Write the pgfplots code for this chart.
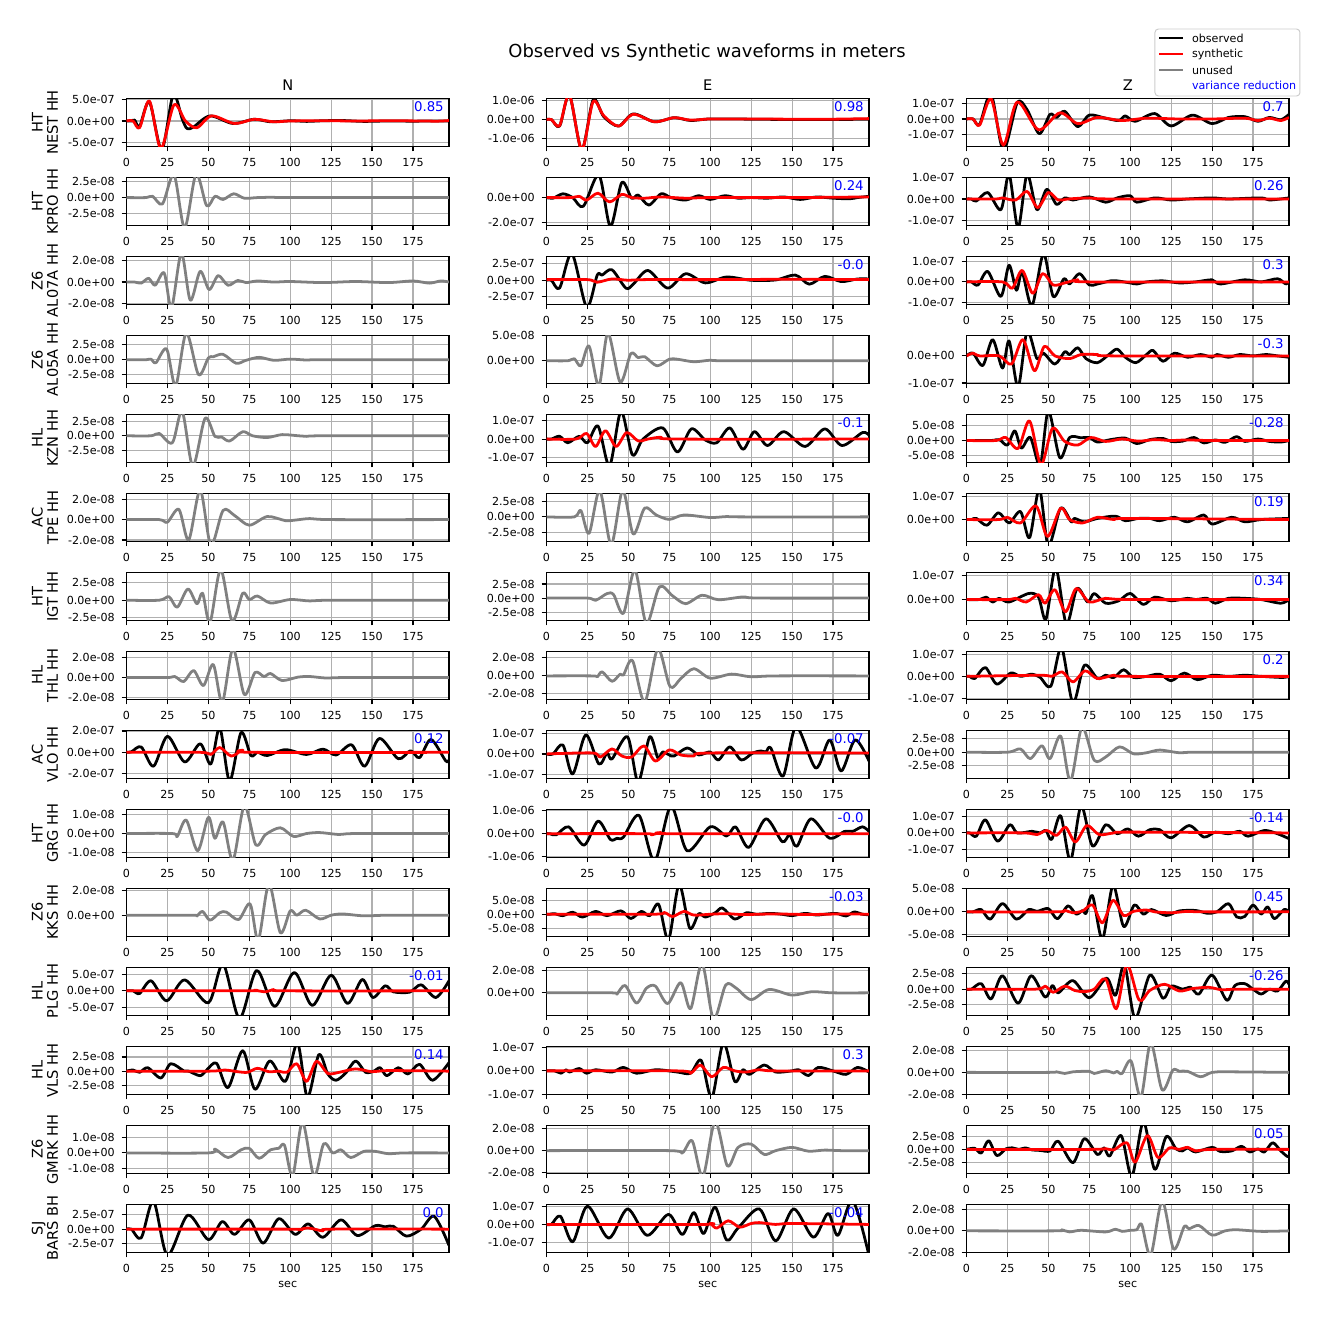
\documentclass[border=0pt]{standalone}
\usepackage{pgfplots}
\pgfplotsset{compat=1.18}
\usepackage{fontspec}
\setmainfont{DejaVu Sans}
\definecolor{gridc}{RGB}{176,176,176}
\definecolor{legc}{RGB}{204,204,204}
\definecolor{unused}{RGB}{128,128,128}
\definecolor{vrblue}{RGB}{0,0,255}
\newcommand\tickfont{\fontsize{8}{9}\selectfont}
\newcommand\ylabfont{\fontsize{10.5}{11}\selectfont}
\newcommand\vrfont{\fontsize{9.6}{11}\selectfont}
\newcommand\legfont{\fontsize{8}{9}\selectfont}
\pgfplotsset{
  wf/.style={
    scale only axis, width=232.2pt, height=34.78pt, anchor=north west,
    xmin=0, xmax=197, xtick={0,25,...,175},
    grid=major, grid style={color=gridc, line width=0.8pt},
    axis line style={line width=0.8pt},
    tick align=outside, major tick length=3.5pt,
    tick style={black, line width=0.8pt},
    xtick pos=bottom, ytick pos=left,
    ticklabel style={font=\tickfont},
    xticklabel style={inner sep=0pt, yshift=-5pt},
    yticklabel style={inner sep=0pt, xshift=-4.75pt},
    /pgf/number format/assume math mode=true,
    every axis plot/.append style={line width=2pt, smooth, line join=round},
  },
  obs/.style={black},
  syn/.style={red},
  unu/.style={unused},
  e7/.style={ytick={-1,0,1}, yticklabels={-1.0e-07,0.0e+00,1.0e-07}},
  e6/.style={ytick={-1,0,1}, yticklabels={-1.0e-06,0.0e+00,1.0e-06}},
  e8/.style={ytick={-1,0,1}, yticklabels={-1.0e-08,0.0e+00,1.0e-08}},
  tt7/.style={ytick={-2,0,2}, yticklabels={-2.0e-07,0.0e+00,2.0e-07}},
  tt8/.style={ytick={-2,0,2}, yticklabels={-2.0e-08,0.0e+00,2.0e-08}},
  tf7/.style={ytick={-2.5,0,2.5}, yticklabels={-2.5e-07,0.0e+00,2.5e-07}},
  tf8/.style={ytick={-2.5,0,2.5}, yticklabels={-2.5e-08,0.0e+00,2.5e-08}},
  f7/.style={ytick={-5,0,5}, yticklabels={-5.0e-07,0.0e+00,5.0e-07}},
  f8/.style={ytick={-5,0,5}, yticklabels={-5.0e-08,0.0e+00,5.0e-08}},
}
\newcommand\ylab[3]{\node[rotate=90,align=center,font=\ylabfont,inner sep=0pt] at (-58.7pt,{-#1*56.87pt-17.39pt}) {#2\\#3};}
\newcommand\vr[3]{\node[anchor=base east,text=vrblue,font=\vrfont,inner sep=0pt] at ({#1*302.4pt+228.6pt},{-#2*56.87pt-9.65pt}) {#3};}
\begin{document}
\begin{tikzpicture}
\useasboundingbox (-91.08pt,70.78pt) rectangle (865.8pt,-880.3pt);
% ===== Row 1: HT NEST HH =====
\begin{axis}[wf, at={(0pt,0pt)}, ymin=-6.06, ymax=5.35, f7]
\addplot[obs] coordinates {(0,0)(3,0)(5,0.2)(8,-1.3)(14,4.5)(21.5,-6.8)(28.5,6.2)(34,0.5)(37,-1.8)(41,-1.4)(51,1.2)(65,-0.6)(78,0.4)(88,-0.2)(100,0.05)(110,-0.1)(120,0.05)(132,0.1)(145,-0.1)(160,0)(175,-0.05)(185,0)(197,0)};
\addplot[syn] coordinates {(0,0)(4,0)(8,-1.6)(14,4.7)(21,-6.5)(29,3.8)(36,0)(43,-1.6)(52,1.2)(66,-0.6)(78,0.4)(90,-0.2)(100,0)(120,0.05)(140,0)(160,0.05)(180,0)(190,-0.05)(197,0.1)};
\end{axis}
\begin{axis}[wf, at={(302.4pt,0pt)}, ymin=-1.44, ymax=1.13, e6]
\addplot[obs] coordinates {(0,0)(3,0)(8,-0.35)(14,1.3)(21.5,-1.6)(28.5,1.05)(35,0.15)(44,-0.35)(53,0.3)(66,-0.12)(78,0.1)(88,-0.05)(100,0.03)(125,0.02)(150,0)(175,0)(197,0.02)};
\addplot[syn] coordinates {(0,0)(3,0)(8,-0.33)(14,1.3)(21.5,-1.6)(28.5,0.95)(35,0.2)(44,-0.35)(53,0.28)(66,-0.12)(78,0.1)(88,-0.03)(100,0.03)(125,0.03)(150,0.02)(175,0.02)(197,0.05)};
\end{axis}
\begin{axis}[wf, at={(604.8pt,0pt)}, ymin=-1.79, ymax=1.34, e7]
\addplot[obs] coordinates {(0,0)(4,0)(8,-0.35)(15,1.6)(22.5,-2.0)(31,1.05)(37,0.6)(44.5,-0.95)(51,0.3)(55,0.1)(60,0.5)(68,-0.5)(75,0.25)(85,0.05)(93,-0.1)(97,0.2)(103,-0.15)(115,0.35)(125,-0.45)(138,0.25)(150,-0.3)(160,0.1)(170,0.15)(178,-0.15)(185,0.1)(192,-0.05)(197,0.3)};
\addplot[syn] coordinates {(0,0)(4,0)(8,-0.4)(15,1.3)(22.5,-1.7)(31,1.1)(44,-0.7)(57,0.4)(68,-0.3)(80,0.1)(95,-0.1)(110,0.05)(130,0)(150,0)(170,0.05)(178,-0.1)(185,0.05)(192,-0.1)(197,0.1)};
\end{axis}
% ===== Row 2: HT KPRO HH =====
\begin{axis}[wf, at={(0pt,-56.87pt)}, ymin=-4.42, ymax=3.2, tf8]
\addplot[unu] coordinates {(0,0)(12,0)(16,0.2)(22,-1.0)(29,3.6)(35.5,-4.8)(42.5,3.7)(49,-1.3)(54,0.2)(59,-0.3)(65.5,0.6)(72,-0.1)(80,0)(90,0.05)(100,0)(197,0)};
\end{axis}
\begin{axis}[wf, at={(302.4pt,-56.87pt)}, ymin=-2.24, ymax=1.62, ytick={-2,0}, yticklabels={-2.0e-07,0.0e+00}]
\addplot[obs] coordinates {(0,0)(4,-0.05)(10,0.3)(16,0)(22.5,-0.7)(32,1.8)(39,-2.3)(46,1.2)(52,-0.05)(56,0.2)(62.5,-0.6)(70,0.3)(76,0)(85,-0.2)(93,0.15)(100,-0.15)(109,0.15)(117,-0.05)(125,0)(135,-0.05)(145,0.05)(155,-0.15)(165,0.05)(175,-0.05)(185,-0.1)(190,0)(197,0.1)};
\addplot[syn] coordinates {(0,0)(15,0)(20,0.1)(24.5,-0.2)(31.5,0.35)(38.5,-0.35)(46,0.25)(52,0)(60,-0.05)(70,0.05)(85,-0.05)(100,0)(150,0)(197,0.05)};
\end{axis}
\begin{axis}[wf, at={(604.8pt,-56.87pt)}, ymin=-1.24, ymax=1.01, e7]
\addplot[obs] coordinates {(0,0)(3,0)(6,-0.1)(13,0.3)(21,-0.5)(26,1.15)(31.5,-1.35)(37,1.15)(43,-0.5)(49,0.45)(55,-0.25)(60,0.05)(65,-0.05)(75,0.1)(85,-0.15)(92,0.05)(100,0.15)(104,-0.15)(115,0.05)(125,-0.05)(135,0)(150,0.05)(160,0)(180,0.05)(185,-0.05)(197,0.05)};
\addplot[syn] coordinates {(0,0)(18,0)(22,0.05)(30,-0.05)(37,0.35)(43.5,-0.4)(50,0.3)(56,-0.05)(62,0)(75,0.05)(90,0)(197,0)};
\end{axis}
% ===== Row 3: Z6 AL07A HH =====
\begin{axis}[wf, at={(0pt,-113.74pt)}, ymin=-2.1, ymax=2.4, tt8]
\addplot[unu] coordinates {(0,0)(5,0)(9,-0.1)(13.5,0.35)(17.5,-0.3)(23,0.85)(27.5,-2.4)(33.5,2.7)(39,-1.7)(45,1.0)(50.5,-0.7)(56,0.6)(62,-0.3)(68,0.15)(73,-0.05)(80,0.1)(90,0)(100,0.05)(120,-0.05)(140,0.05)(160,-0.05)(175,0.1)(185,-0.1)(192,0.1)(197,0)};
\end{axis}
\begin{axis}[wf, at={(302.4pt,-113.74pt)}, ymin=-3.72, ymax=3.67, tf7]
\addplot[obs] coordinates {(0,0)(3,0)(8,-1.2)(15.5,4.1)(24.5,-4.1)(31,0.8)(34,0.8)(40,1.6)(48.5,-1.2)(53,-0.6)(62,1.5)(74,-1.2)(85,1.0)(97,-0.4)(110,0.5)(125,0)(140,0.05)(152,0.8)(160.5,-0.6)(170,0.6)(180,-0.2)(190,0.2)(197,0.2)};
\addplot[syn] coordinates {(0,0.1)(25,0.1)(31,-0.3)(40,0.2)(50,0)(60,0.1)(100,0.1)(150,0.15)(197,0.1)};
\end{axis}
\begin{axis}[wf, at={(604.8pt,-113.74pt)}, ymin=-1.09, ymax=1.23, e7]
\addplot[obs] coordinates {(0,0)(3,0)(7,-0.15)(13,0.5)(21,-0.7)(26,0.8)(30.5,-0.4)(34,0.45)(40,-1.15)(47,1.35)(53,-0.7)(59.5,0.15)(63,-0.1)(69,0.4)(75,-0.15)(80,-0.1)(88,0.05)(92,0.05)(100,-0.05)(104,-0.1)(110,0)(120,0.05)(130,-0.05)(140,0)(150,0.1)(155,-0.1)(170,0.1)(180,0)(190,0.15)(195,-0.1)(197,0)};
\addplot[syn] coordinates {(0,0)(22,0)(28,-0.3)(34,0.55)(40.5,-0.55)(46.5,0.4)(53,-0.15)(60,-0.05)(68,0.1)(75,0)(197,0)};
\end{axis}
% ===== Row 4: Z6 AL05A HH =====
\begin{axis}[wf, at={(0pt,-170.61pt)}, ymin=-4.0, ymax=4.1, tf8]
\addplot[unu] coordinates {(0,0)(12,0)(15,0.1)(18,-0.5)(24.5,1.8)(30,-4.4)(36.5,4.5)(44,-2.5)(50,0.3)(53,0.5)(59,0.9)(67,-0.6)(73,-0.1)(81,0.4)(90,-0.1)(100,0.1)(110,-0.05)(120,0)(197,0)};
\end{axis}
\begin{axis}[wf, at={(302.4pt,-170.61pt)}, ymin=-4.5, ymax=5.02, ytick={0,5}, yticklabels={0.0e+00,5.0e-08}]
\addplot[unu] coordinates {(0,0)(13,0)(17,0.4)(21,-1.0)(26,2.9)(32,-5.0)(37.5,5.5)(45,-4.2)(51.5,1.4)(56,0.6)(60,0.8)(67.5,-1.0)(75,0.3)(80,0.3)(90,-0.2)(100,0.1)(110,0)(197,0)};
\end{axis}
\begin{axis}[wf, at={(604.8pt,-170.61pt)}, ymin=-1.02, ymax=0.76, ytick={-1,0}, yticklabels={-1.0e-07,0.0e+00}]
\addplot[obs] coordinates {(0,0)(4,0.1)(10,-0.35)(16,0.6)(22,-0.45)(26,0.55)(31.5,-1.15)(37,0.9)(43,-0.1)(47,0.1)(54,-0.3)(60,0.15)(63,0.05)(68,0.3)(73,-0.1)(80,-0.25)(87,0.05)(92,0.25)(97,-0.05)(103.5,-0.25)(110,0.05)(114,0.2)(120,-0.2)(127,0.1)(135,-0.05)(143,0.05)(150,-0.05)(153,0.05)(160,-0.05)(167,0.05)(175,0)(183,0.05)(190,0)(197,-0.05)};
\addplot[syn] coordinates {(0,0)(4,0.1)(8,0)(20,0)(27.5,-0.3)(34.5,0.6)(41.5,-0.55)(47.5,0.35)(54,0)(63,-0.1)(70,0.05)(80,0.05)(90,0)(197,0)};
\end{axis}
% ===== Row 5: HL KZN HH =====
\begin{axis}[wf, at={(0pt,-227.48pt)}, ymin=-4.6, ymax=3.7, tf8]
\addplot[unu] coordinates {(0,0)(15,0)(20,0.4)(28,-1.2)(34,4.2)(40.5,-5.2)(48,3.0)(54,-0.1)(58,-0.2)(63,-0.9)(71,0.7)(77,0)(86,-0.3)(95,0.2)(105,0)(110,-0.1)(120,0)(197,0)};
\end{axis}
\begin{axis}[wf, at={(302.4pt,-227.48pt)}, ymin=-1.27, ymax=1.34, e7]
\addplot[obs] coordinates {(0,0)(3,0)(8,0.15)(13,-0.2)(20,0.15)(25,-0.2)(31.5,0.7)(38.5,-1.45)(45.5,1.5)(52.5,-0.85)(59,0)(71,0.6)(80,-0.7)(88.5,0.55)(97,-0.05)(104,-0.2)(112,0.6)(120,-0.55)(127,0.4)(135,-0.35)(145,0.4)(158,-0.4)(170,0.55)(180.5,-0.35)(193,0.35)(197,0.2)};
\addplot[syn] coordinates {(0,0)(18,0)(24.5,0.3)(30,-0.4)(36,0.45)(42.5,-0.4)(49,0.35)(56,-0.1)(62,0)(70,0.1)(80,0)(197,0)};
\end{axis}
\begin{axis}[wf, at={(604.8pt,-227.48pt)}, ymin=-7.3, ymax=8.7, f8]
\addplot[obs] coordinates {(0,0)(15,0)(20,0.3)(25,-1.5)(29.5,3.2)(33.5,-2.5)(39,1.0)(45,-8.2)(50,9.8)(57,-5.7)(63,1.0)(70,0.9)(75,1.0)(80,-0.5)(88,0.3)(97,0.8)(104,-1.0)(112,0.3)(120,0.7)(125,-0.3)(132,-0.2)(139,1.0)(145,-0.8)(152,0.2)(158,-0.6)(165,1.3)(170,-0.3)(178,0.5)(185,-0.3)(192,-0.5)(197,0)};
\addplot[syn] coordinates {(0,0)(18,0)(24,1.0)(31.5,-2.6)(38.5,6.5)(45.5,-8.0)(52.5,4.0)(60,-0.3)(68,-1.5)(76,1.0)(85,-0.3)(95,0.5)(105,-0.2)(115,0.3)(125,0)(135,0.2)(150,0)(197,0)};
\end{axis}
% ===== Row 6: AC TPE HH =====
\begin{axis}[wf, at={(0pt,-284.35pt)}, ymin=-2.15, ymax=2.58, tt8]
\addplot[unu] coordinates {(0,0)(20,0)(25,-0.25)(32,1.0)(38,-2.0)(45,2.9)(51.5,-2.5)(59,0.9)(66,0.4)(75,-0.55)(86,0.3)(97,-0.1)(103,-0.05)(112,0.1)(125,0)(197,0)};
\end{axis}
\begin{axis}[wf, at={(302.4pt,-284.35pt)}, ymin=-3.9, ymax=3.74, tf8]
\addplot[unu] coordinates {(0,0)(17,0)(21,1.0)(26,-2.6)(32.5,4.2)(39.5,-4.4)(46.5,4.2)(53,-2.7)(60,1.4)(67,0.3)(75,-0.4)(84,0.3)(100,-0.1)(110,0.05)(120,0)(197,0)};
\end{axis}
\begin{axis}[wf, at={(604.8pt,-284.35pt)}, ymin=-0.97, ymax=1.16, ytick={0,1}, yticklabels={0.0e+00,1.0e-07}]
\addplot[obs] coordinates {(0,0)(3,0)(6,0.05)(12.5,-0.25)(19.5,0.3)(26,-0.15)(33,0.35)(38.5,-0.8)(44.5,1.35)(50,-1.15)(57.5,0.5)(64,-0.1)(66,0.05)(72,-0.1)(80,0.05)(91,0.15)(97,-0.05)(105,0.05)(112,0.05)(118,-0.05)(127,0.1)(135,-0.1)(145,0.2)(150,-0.2)(162,0.1)(170,-0.1)(180,0)(197,0.05)};
\addplot[syn] coordinates {(0,0)(20,0)(25,0.1)(33,-0.15)(42.5,0.6)(49.5,-0.75)(57.5,0.5)(63,0)(71,-0.15)(80,0.1)(90,0)(100,0.05)(197,0)};
\end{axis}
% ===== Row 7: HT IGT HH =====
\begin{axis}[wf, at={(0pt,-341.22pt)}, ymin=-2.9, ymax=4.0, tf8]
\addplot[unu] coordinates {(0,0)(20,0)(26,0.5)(31,-1.0)(37.5,1.6)(43,-0.5)(46.5,1.0)(51,-3.2)(57.5,4.4)(64.5,-3.0)(71,1.0)(75,0.1)(80,0.6)(88,-0.4)(100,0.1)(112,-0.1)(125,0)(197,0)};
\end{axis}
\begin{axis}[wf, at={(302.4pt,-341.22pt)}, ymin=-4.0, ymax=4.6, tf8]
\addplot[unu] coordinates {(0,0)(25,0)(30,-0.4)(37,0.8)(41,0.6)(47,-2.7)(54,5.0)(61,-4.5)(69,2.0)(77,0.4)(85,-1.0)(95,0.5)(105,-0.3)(120,0.2)(130,0)(197,0)};
\end{axis}
\begin{axis}[wf, at={(604.8pt,-341.22pt)}, ymin=-0.86, ymax=1.12, ytick={0,1}, yticklabels={0.0e+00,1.0e-07}]
\addplot[obs] coordinates {(0,0)(8,0)(12,0.1)(16,-0.1)(20,0.05)(26,-0.1)(38,0.25)(44,0.1)(48.5,-0.8)(54.5,1.3)(61,-1.0)(67.5,0.45)(74,-0.1)(78,0.25)(85,-0.15)(93,-0.05)(100,0.25)(108,-0.2)(115,0.1)(125,-0.05)(135,0.05)(140,0)(147,0.05)(152,-0.15)(160,0.05)(170,0.05)(180,0)(192,-0.15)(197,0)};
\addplot[syn] coordinates {(0,0)(25,0)(30,0.05)(36.5,-0.1)(44,0.2)(48,-0.15)(54,0.4)(60.5,-0.5)(67,0.45)(75,-0.1)(85,0.05)(100,0)(197,0)};
\end{axis}
% ===== Row 8: HL THL HH =====
\begin{axis}[wf, at={(0pt,-398.09pt)}, ymin=-2.2, ymax=2.63, tt8]
\addplot[unu] coordinates {(0,0)(25,0)(29.5,0.1)(35,-0.4)(41,0.7)(47,-0.8)(53,1.3)(58.5,-2.5)(65,2.9)(72,-1.7)(78.5,0.5)(84,0.1)(88,0.4)(95,-0.3)(105,0.05)(112,0.1)(122,-0.05)(135,0)(197,0)};
\end{axis}
\begin{axis}[wf, at={(302.4pt,-398.09pt)}, ymin=-2.62, ymax=2.74, tt8]
\addplot[unu] coordinates {(0,0)(28,0)(31,-0.1)(34,0.45)(40,-0.6)(45,0.2)(47,0.1)(52.5,1.7)(60,-2.9)(68,3.0)(75.5,-1.2)(82,-0.3)(90,0.8)(100,-0.25)(113,0.2)(125,-0.1)(140,0)(197,0)};
\end{axis}
\begin{axis}[wf, at={(604.8pt,-398.09pt)}, ymin=-1.05, ymax=1.14, e7]
\addplot[obs] coordinates {(0,0)(2,0)(5,-0.1)(11.5,0.4)(18.5,-0.35)(27,0.15)(33,0)(40,0.1)(45,-0.05)(51.5,-0.45)(58,1.3)(65,-1.2)(72,0.5)(80,-0.1)(85,0.05)(90,-0.05)(96,0.3)(102,-0.05)(110,0)(118,0.1)(125,-0.2)(133,0.15)(141,-0.15)(150,0.05)(160,0)(170,0.05)(180,0)(193,-0.05)(197,0)};
\addplot[syn] coordinates {(0,0)(45,0.05)(52,0)(58.5,0.2)(65,-0.25)(72.5,0.25)(80,-0.1)(90,0.05)(100,0)(197,0)};
\end{axis}
% ===== Row 9: AC VLO HH =====
\begin{axis}[wf, at={(0pt,-454.96pt)}, ymin=-2.45, ymax=2.07, tt7]
\addplot[obs] coordinates {(0,0)(3,0.05)(9,0.5)(16.5,-1.3)(25,1.5)(35.5,-0.9)(45,0.8)(51.5,-1.1)(57,2.3)(63,-2.7)(70,1.85)(76,-0.3)(80,0)(86,-0.3)(97,0.25)(110,-0.2)(120,0.3)(128,-0.25)(137.5,0.7)(145.5,-1.3)(154.5,1.3)(166,-0.6)(173.5,0.15)(179,-0.5)(186,1.2)(195,-0.8)(197,-0.7)};
\addplot[syn] coordinates {(0,0)(45,0)(51.5,-0.2)(57,0.45)(64,-0.35)(71,0.2)(77,0)(197,0)};
\end{axis}
\begin{axis}[wf, at={(302.4pt,-454.96pt)}, ymin=-1.22, ymax=1.18, e7]
\addplot[obs] coordinates {(0,0)(4,0)(10,0.45)(16,-1.0)(24,0.95)(32,-0.5)(37,0.05)(40,-0.25)(49.5,0.85)(56,-1.4)(63,0.85)(68,-0.2)(71,0.1)(75,-0.05)(78,-0.1)(86,0.3)(93,-0.05)(100,0.1)(105,-0.3)(112,0.35)(119,-0.3)(126,0.05)(131,0.15)(134,0.1)(137,0.3)(144.5,-1.1)(152.5,1.35)(164.5,-0.7)(173,0.7)(180,-0.85)(188.5,0.7)(197,-0.35)};
\addplot[syn] coordinates {(0,0)(28,0.05)(33,-0.15)(40,0.25)(46,-0.1)(52,-0.15)(59.5,0.4)(66.5,-0.35)(75,0.2)(82,-0.05)(90,-0.1)(100,0.05)(197,0.05)};
\end{axis}
\begin{axis}[wf, at={(604.8pt,-454.96pt)}, ymin=-4.9, ymax=4.1, tf8]
\addplot[unu] coordinates {(0,0)(25,0)(33,0.6)(39,-1.2)(46,1.2)(51,-1.2)(57.5,3.0)(63.5,-5.4)(70.5,4.6)(78,-1.5)(85,-0.9)(93.5,1.0)(102,-0.3)(110,-0.1)(118,0.4)(130,-0.1)(140,0)(197,0)};
\end{axis}
% ===== Row 10: HT GRG HH =====
\begin{axis}[wf, at={(0pt,-511.83pt)}, ymin=-1.25, ymax=1.27, e8]
\addplot[unu] coordinates {(0,0)(28,0)(31,-0.15)(36.5,0.7)(43.5,-0.9)(50,0.85)(54,-0.25)(59,0.6)(65,-1.4)(72,1.45)(79,-0.6)(85,-0.05)(94,0.3)(102,-0.15)(110,0)(118,0.05)(130,-0.05)(140,0)(197,0)};
\end{axis}
\begin{axis}[wf, at={(302.4pt,-511.83pt)}, ymin=-1.04, ymax=1.07, e6]
\addplot[obs] coordinates {(0,0)(2,0)(6,-0.05)(13.5,0.3)(23,-0.5)(31.5,0.55)(39,-0.25)(43,-0.2)(47,-0.15)(56.5,0.8)(66,-1.2)(76,1.2)(86,-0.75)(100,0.3)(110,-0.1)(115.5,0.3)(123.5,-0.6)(134,0.65)(144,-0.35)(148.5,-0.05)(153,-0.55)(161.5,0.65)(173,-0.2)(182,0.1)(187,0.1)(193,0.3)(197,0.1)};
\addplot[syn] coordinates {(0,0)(60,0)(64,-0.05)(70,0.05)(76,0)(197,0)};
\end{axis}
\begin{axis}[wf, at={(604.8pt,-511.83pt)}, ymin=-1.5, ymax=1.45, e7]
\addplot[obs] coordinates {(0,0)(2,0)(6,-0.2)(11.5,0.8)(19,-0.5)(26.5,0.5)(31,0)(40,0.1)(45,0)(48.5,0.15)(52,-0.4)(57.5,1.05)(63.5,-1.7)(70,1.65)(77,-0.8)(85,0.5)(92,-0.05)(98.5,0.25)(105,-0.2)(112,0.2)(118,0.2)(125,-0.3)(136,0.45)(145,-0.25)(152,0.05)(160,-0.05)(167,0.1)(172,-0.2)(182,0.15)(190,-0.05)(197,-0.35)};
\addplot[syn] coordinates {(0,0)(35,0)(43,-0.1)(49,0.15)(55,-0.15)(60.5,0.35)(66.5,-0.55)(73.5,0.45)(81,-0.1)(90,0)(100,0.05)(197,0)};
\end{axis}
% ===== Row 11: Z6 KKS HH =====
\begin{axis}[wf, at={(0pt,-568.70pt)}, ymin=-1.7, ymax=2.16, ytick={0,2}, yticklabels={0.0e+00,2.0e-08}]
\addplot[unu] coordinates {(0,0)(40,0)(43,-0.05)(46.5,0.3)(51,-0.4)(57,0.2)(61,0.25)(68.5,-0.35)(75.5,0.9)(80.5,-2.0)(87,2.5)(94,-1.4)(100,0.35)(104,0)(109.5,0.4)(118,-0.3)(125,0)(132,0.1)(145,-0.05)(160,0)(197,0)};
\end{axis}
\begin{axis}[wf, at={(302.4pt,-568.70pt)}, ymin=-7.85, ymax=9.2, f8]
\addplot[obs] coordinates {(0,0)(2,0)(5,0.2)(10,-0.5)(16,0.7)(22,-1.0)(30,1.0)(37,-0.5)(45.5,1.2)(51.5,-1.5)(58,1.0)(63,-0.5)(68.5,3.5)(74.5,-9)(81,10.5)(87.5,-4.9)(93,0.2)(97,-1.0)(103,0.5)(107.5,2.2)(115,-1.7)(122,0.5)(128,0)(137,0.3)(145,-0.1)(150,-0.5)(158,0.3)(165,-0.3)(170,0)(177,0.3)(183,-0.6)(188,0.8)(193,0)(197,-0.2)};
\addplot[syn] coordinates {(0,0)(65,0)(72,0.6)(77,-0.8)(84,1.0)(90,-0.3)(100,0)(110,0.2)(120,-0.1)(140,0.1)(160,-0.1)(180,0.1)(197,0)};
\end{axis}
\begin{axis}[wf, at={(604.8pt,-568.70pt)}, ymin=-5.37, ymax=5.16, f8]
\addplot[obs] coordinates {(0,0)(4,0)(9,0.5)(14.5,-1.6)(22,1.8)(30.5,-1.6)(38,0.5)(43,0.1)(50,0.7)(55.5,-1.5)(62,1.3)(67,-0.5)(71,0.3)(73,-0.3)(77,3.5)(83,-6.0)(89.5,5.8)(96,-3.2)(102.5,1.5)(108,-0.5)(113,0.5)(122,-0.8)(130,0.2)(140,0.3)(147,-0.3)(153,0)(160,1.8)(165,-1.1)(170,-1.0)(175,1.5)(180,-0.5)(184,1.1)(188,-1.5)(194,0.5)(197,0)};
\addplot[syn] coordinates {(0,0)(55,0)(60,0.3)(65,-0.2)(71,0.2)(77,1.5)(83,-2.4)(89.5,2.5)(96,-0.8)(102,0.1)(110,0.4)(115,0)(125,-0.2)(135,0.1)(145,0)(197,0)};
\end{axis}
% ===== Row 12: HL PLG HH =====
\begin{axis}[wf, at={(0pt,-625.57pt)}, ymin=-7.4, ymax=7.1, f7]
\addplot[obs] coordinates {(0,0)(4,0)(8,-0.8)(15,3.0)(24.5,-3.0)(35.5,3.3)(50,-3.6)(59,8)(69,-8.3)(79.5,6.1)(90.5,-4.7)(102.5,5.5)(113.5,-4.4)(125,4.7)(135,-3.8)(144,3.4)(150.5,-2.0)(158,1.5)(163,-0.3)(173,-0.4)(180,1.8)(189,-2.0)(197,3.0)};
\addplot[syn] coordinates {(0,0)(75,0)(78,0.2)(85,-0.3)(90,0.4)(97,0)(197,0)};
\end{axis}
\begin{axis}[wf, at={(302.4pt,-625.57pt)}, ymin=-2.0, ymax=2.27, ytick={0,2}, yticklabels={0.0e+00,2.0e-08}]
\addplot[unu] coordinates {(0,0)(40,0)(43,-0.1)(48,0.65)(55,-0.9)(61,0.4)(66.5,0.6)(74,-0.95)(82,0.9)(88,-1.4)(95,2.6)(102,-2.3)(109.5,0.7)(116,0.4)(125,-0.6)(136,0.3)(150,-0.2)(162,0.1)(175,0)(197,0)};
\end{axis}
\begin{axis}[wf, at={(604.8pt,-625.57pt)}, ymin=-4.3, ymax=3.6, tf8]
\addplot[obs] coordinates {(0,0)(3,0)(9,0.9)(15,-1.6)(22,2.2)(31.5,-2.3)(39.5,2.2)(48,-1.3)(52.5,0.6)(56,-0.6)(65,1.4)(75,-1.4)(85.5,1.8)(91,-1.0)(96.5,4.0)(103,-4.8)(112,2.3)(120,-1.5)(125,0.5)(132,0)(137,0.3)(142,-0.8)(150,2.3)(159,-1.8)(164,0.6)(170,0.9)(175,0)(180,-0.8)(185,0)(190,-0.3)(195,1.3)(197,0.8)};
\addplot[syn] coordinates {(0,0)(42,0)(48,0.5)(53,-0.5)(60,0.5)(66,-0.2)(72,-0.4)(78,0)(85,1.7)(91.5,-3.2)(98,4.0)(105.5,-1.8)(112,-0.2)(121,0.8)(130,-0.3)(138,0.1)(148,0.3)(156,-0.1)(165,0)(197,0)};
\end{axis}
% ===== Row 13: HL VLS HH =====
\begin{axis}[wf, at={(0pt,-682.44pt)}, ymin=-4.1, ymax=4.4, tf8]
\addplot[obs] coordinates {(0,0)(4,0.2)(8,-0.2)(13,0.6)(21,-1.2)(27,1.3)(35,0.05)(38,0)(45,-0.8)(49,0.2)(55,1.4)(62,-2.9)(71,3.6)(78.5,-3.2)(87.5,1.8)(97,-1.8)(104.5,4.9)(110.5,-4.6)(117.5,2.9)(123,-0.5)(128,-1.6)(134,-0.3)(140,1.8)(146,-0.2)(151,0)(155,0.6)(159,-0.8)(166,0.6)(172,-0.5)(179,1.2)(187,-1.6)(197,1.5)};
\addplot[syn] coordinates {(0,0)(50,0)(60,0.2)(68,-0.1)(74,-0.2)(80,0.5)(87,-0.1)(93,0)(98,-0.2)(104,1.3)(110,-1.8)(116,1.7)(123,-0.4)(130,-0.2)(140,0.4)(150,-0.1)(160,0.1)(197,0)};
\end{axis}
\begin{axis}[wf, at={(302.4pt,-682.44pt)}, ymin=-1.01, ymax=1.06, e7]
\addplot[obs] coordinates {(0,0)(5,0)(9,-0.1)(12,0.05)(14,-0.05)(20,0.1)(24.5,-0.1)(30,0.05)(40,-0.05)(47,0.15)(55,-0.1)(67,0.05)(80,-0.05)(88,-0.1)(94.5,0.45)(101,-1.15)(108,1.2)(115,-0.45)(120,0.05)(124,-0.15)(133,0.25)(140,-0.05)(150,0)(154,0.05)(160,-0.2)(166,0.15)(175,0)(183,-0.15)(190,0.15)(197,-0.05)};
\addplot[syn] coordinates {(0,0)(80,0)(88,-0.1)(94,0.25)(101,-0.25)(108,0.15)(115,0)(122,-0.05)(130,0.05)(140,0)(197,0)};
\end{axis}
\begin{axis}[wf, at={(604.8pt,-682.44pt)}, ymin=-2.02, ymax=2.4, tt8]
\addplot[unu] coordinates {(0,0)(50,0)(55,0.05)(60,-0.1)(65,0.05)(75,0.1)(78,-0.1)(85,0.15)(90,-0.05)(92,0.1)(95,-0.1)(100.5,1.05)(106.5,-2.3)(112.5,2.7)(119.5,-1.6)(126,0.2)(130,0.1)(135,0.1)(143,-0.4)(150,0)(160,0.05)(197,0)};
\end{axis}
% ===== Row 14: Z6 GMRK HH =====
\begin{axis}[wf, at={(0pt,-739.31pt)}, ymin=-1.33, ymax=1.8, e8]
\addplot[unu] coordinates {(0,0)(50,0)(54,0.25)(62,-0.3)(70,0.2)(75,0.3)(81,-0.35)(88,0.2)(93,0.3)(96.5,0.5)(101.5,-1.5)(107.5,2.0)(114.5,-1.5)(120.5,0.6)(126,0)(131,0.2)(137,-0.3)(145,0.1)(152,0.1)(160,-0.05)(170,0)(197,0)};
\end{axis}
\begin{axis}[wf, at={(302.4pt,-739.31pt)}, ymin=-2.1, ymax=2.35, tt8]
\addplot[unu] coordinates {(0,0)(75,0)(83,-0.2)(89,0.9)(95.5,-2.4)(103,2.7)(110.5,-1.4)(117,0.3)(125,0.6)(133,-0.35)(140,0)(150,0.3)(160,-0.05)(170,0.05)(180,0)(197,0)};
\end{axis}
\begin{axis}[wf, at={(604.8pt,-739.31pt)}, ymin=-4.7, ymax=4.74, tf8]
\addplot[obs] coordinates {(0,0)(5,0.2)(9,-0.7)(13.5,1.7)(18.5,-1.2)(24,0.1)(28,0.3)(32,0)(36,0.3)(40,-0.1)(45,-0.2)(51,-0.3)(56,1.6)(65,-2.6)(72,2.1)(80,-1.0)(84,0.3)(87.5,-1.3)(94.5,2.7)(101,-5.3)(108,5.4)(115,-3.9)(122,2.5)(128,0.1)(132,-0.3)(135,0.3)(140,-0.5)(150,0.4)(155,-0.4)(162,-0.3)(168,0.6)(173,-0.5)(178,0.1)(182,-0.5)(187,1.3)(192,-0.3)(196,-1.4)(197,-1.2)};
\addplot[syn] coordinates {(0,0)(75,0)(85,0.15)(90,-0.1)(98,1.3)(103,-2.5)(110.5,2.7)(117,-1.6)(124,0.3)(130,0)(135,0.4)(140,-0.3)(150,0)(197,0)};
\end{axis}
% ===== Row 15: SJ BARS BH =====
\begin{axis}[wf, at={(0pt,-796.18pt)}, ymin=-4.0, ymax=4.3, tf7]
\addplot[obs] coordinates {(0,0)(3,0)(9,-1.5)(16.5,4.8)(25,-4.5)(37.5,2.4)(50,-1.8)(58.5,1.3)(66,-0.9)(75,1.6)(83.5,-2.4)(93,1.8)(103,-0.9)(111,0.9)(120,-1.4)(131,1.6)(141,-1.1)(152,0.6)(158,0.4)(163,0.5)(171,-1.2)(180,0)(188,2.2)(197,-2.8)};
\addplot[syn] coordinates {(0,0)(100,0)(105,-0.1)(111,0.2)(120,-0.3)(125,0)(197,0)};
\end{axis}
\begin{axis}[wf, at={(302.4pt,-796.18pt)}, ymin=-1.53, ymax=1.11, e7]
\addplot[obs] coordinates {(0,0)(3,0)(8.5,0.45)(16,-0.95)(25,1.0)(38,-0.75)(49.5,0.85)(61.5,-0.6)(74.5,0.55)(83,-0.55)(90,0.65)(96,-0.5)(103,0.95)(110,-0.85)(117,-0.2)(130,0.85)(140,-0.9)(151,0.85)(163,-0.7)(172,0.6)(178,-0.6)(187,1.3)(197,-1.7)};
\addplot[syn] coordinates {(0,0)(95,0)(100,0.05)(104,-0.2)(111,0.2)(118,-0.15)(125,0.05)(130,0.1)(140,0)(150,0.05)(197,0)};
\end{axis}
\begin{axis}[wf, at={(604.8pt,-796.18pt)}, ymin=-2.02, ymax=2.5, tt8]
\addplot[unu] coordinates {(0,0)(55,0)(58,0.1)(63,-0.1)(70,0.05)(85,-0.1)(91,0.15)(95,-0.05)(100,0.05)(104,0.1)(107,0.6)(112.5,-2.3)(119.5,2.8)(126.5,-1.7)(133,0.4)(136,0.2)(142,0.5)(150,-0.4)(158,0)(165,0.1)(180,-0.05)(197,0)};
\end{axis}
% ===== Labels =====
\ylab{0}{HT}{NEST HH}
\ylab{1}{HT}{KPRO HH}
\ylab{2}{Z6}{AL07A HH}
\ylab{3}{Z6}{AL05A HH}
\ylab{4}{HL}{KZN HH}
\ylab{5}{AC}{TPE HH}
\ylab{6}{HT}{IGT HH}
\ylab{7}{HL}{THL HH}
\ylab{8}{AC}{VLO HH}
\ylab{9}{HT}{GRG HH}
\ylab{10}{Z6}{KKS HH}
\ylab{11}{HL}{PLG HH}
\ylab{12}{HL}{VLS HH}
\ylab{13}{Z6}{GMRK HH}
\ylab{14}{SJ}{BARS BH}
\vr{0}{0}{0.85}\vr{1}{0}{0.98}\vr{2}{0}{0.7}
\vr{1}{1}{0.24}\vr{2}{1}{0.26}
\vr{1}{2}{-0.0}\vr{2}{2}{0.3}
\vr{2}{3}{-0.3}
\vr{1}{4}{-0.1}\vr{2}{4}{-0.28}
\vr{2}{5}{0.19}
\vr{2}{6}{0.34}
\vr{2}{7}{0.2}
\vr{0}{8}{0.12}\vr{1}{8}{-0.07}
\vr{1}{9}{-0.0}\vr{2}{9}{-0.14}
\vr{1}{10}{-0.03}\vr{2}{10}{0.45}
\vr{0}{11}{-0.01}\vr{2}{11}{-0.26}
\vr{0}{12}{0.14}\vr{1}{12}{0.3}
\vr{2}{13}{0.05}
\vr{0}{14}{0.0}\vr{1}{14}{-0.04}
\foreach \c/\t in {0/N,1/E,2/Z}{
  \node[anchor=base,font=\ylabfont,inner sep=0pt] at ({\c*302.4pt+116.1pt},5.6pt) {\t};
  \node[font=\fontsize{8}{9}\selectfont,inner sep=0pt] at ({\c*302.4pt+116.1pt},-853.8pt) {sec};
}
\node[font=\fontsize{12.9}{15}\selectfont,inner sep=0pt] at (418pt,33.3pt) {Observed vs Synthetic waveforms in meters};
% legend
\draw[draw=legc, fill=white, rounded corners=2.5pt, line width=0.7pt] (740.5pt,49.9pt) rectangle (844.9pt,1.66pt);
\draw[black, line width=1.5pt] (743.6pt,43.2pt) -- (760.5pt,43.2pt);
\draw[red, line width=1.5pt] (743.6pt,31.9pt) -- (760.5pt,31.9pt);
\draw[unused, line width=1.5pt] (743.6pt,20.4pt) -- (760.5pt,20.4pt);
\node[anchor=west,font=\legfont,inner sep=0pt] at (767pt,43.2pt) {observed};
\node[anchor=west,font=\legfont,inner sep=0pt] at (767pt,31.9pt) {synthetic};
\node[anchor=west,font=\legfont,inner sep=0pt] at (767pt,20.4pt) {unused};
\node[anchor=west,font=\legfont,inner sep=0pt,text=vrblue] at (767pt,9.2pt) {variance reduction};
\end{tikzpicture}
\end{document}
